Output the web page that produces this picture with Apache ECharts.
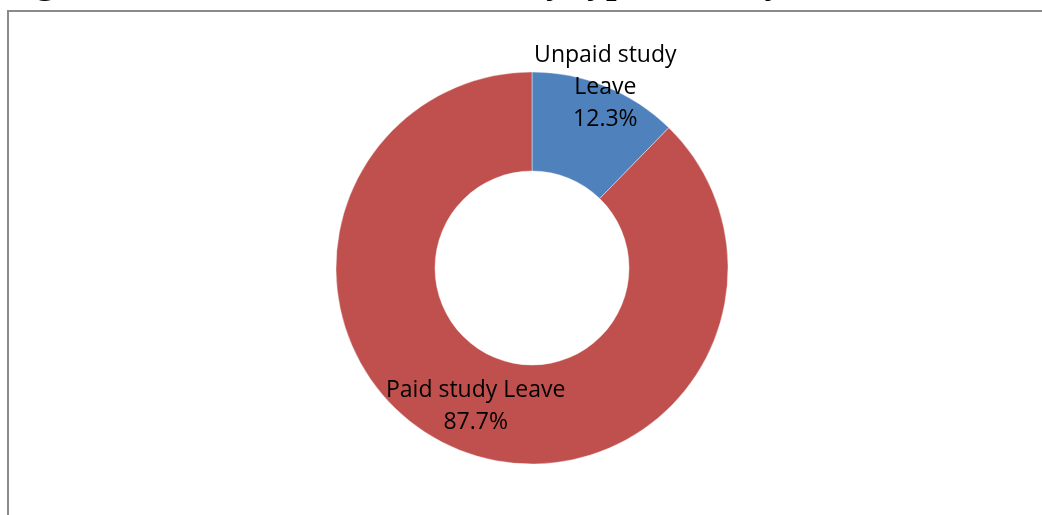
<!DOCTYPE html>
<html>
<head>
<meta charset="utf-8">
<script src="https://cdn.jsdelivr.net/npm/echarts@6/dist/echarts.min.js"></script>
<style>
  html, body { margin: 0; padding: 0; background: #fff; }
  #chart { width: 1042px; height: 515px; }
</style>
</head>
<body>
<div id="chart"></div>
<script>
// Study leave categories and their shares (%)
const categories = ['Unpaid study\nLeave', 'Paid study Leave'];
const shares = [12.3, 87.7];
const sliceColors = ['#4F81BD', '#C0504D'];
const captionText = 'Figure 4.2: Distribution of Staff by type of study leave';

const chart = echarts.init(document.getElementById('chart'), null, { renderer: 'canvas' });

const data = categories.map((name, i) => ({
  name: name,
  value: shares[i],
  itemStyle: { color: sliceColors[i] },
  label: i === 0 ? { offset: [17, -42] } : {}
}));

chart.setOption({
  animation: false,
  backgroundColor: '#ffffff',
  graphic: [
    {
      // caption sits above the frame; only its descenders fall inside the page
      type: 'text',
      x: 2,
      y: -17,
      style: {
        text: captionText,
        font: 'bold 38px "Liberation Serif", "Times New Roman", serif',
        align: 'left',
        verticalAlign: 'middle',
        fill: '#000'
      }
    },
    {
      type: 'rect',
      shape: { x: 8, y: 11, width: 1200, height: 700 },
      style: { fill: 'none', stroke: '#8a8a8a', lineWidth: 2 }
    }
  ],
  series: [{
    type: 'pie',
    center: [532, 268],
    radius: [97, 196],
    startAngle: 90,
    clockwise: true,
    avoidLabelOverlap: false,
    itemStyle: { borderColor: 'rgba(255,255,255,0.6)', borderWidth: 0.7 },
    label: {
      show: true,
      position: 'inside',
      color: '#000',
      fontFamily: '"Open Sans", "Liberation Sans", sans-serif',
      fontSize: 23,
      lineHeight: 32,
      align: 'center',
      formatter: p => p.name + '\n' + p.value.toFixed(1) + '%'
    },
    labelLine: { show: false },
    emphasis: { disabled: true },
    data: data
  }]
});
</script>
</body>
</html>
